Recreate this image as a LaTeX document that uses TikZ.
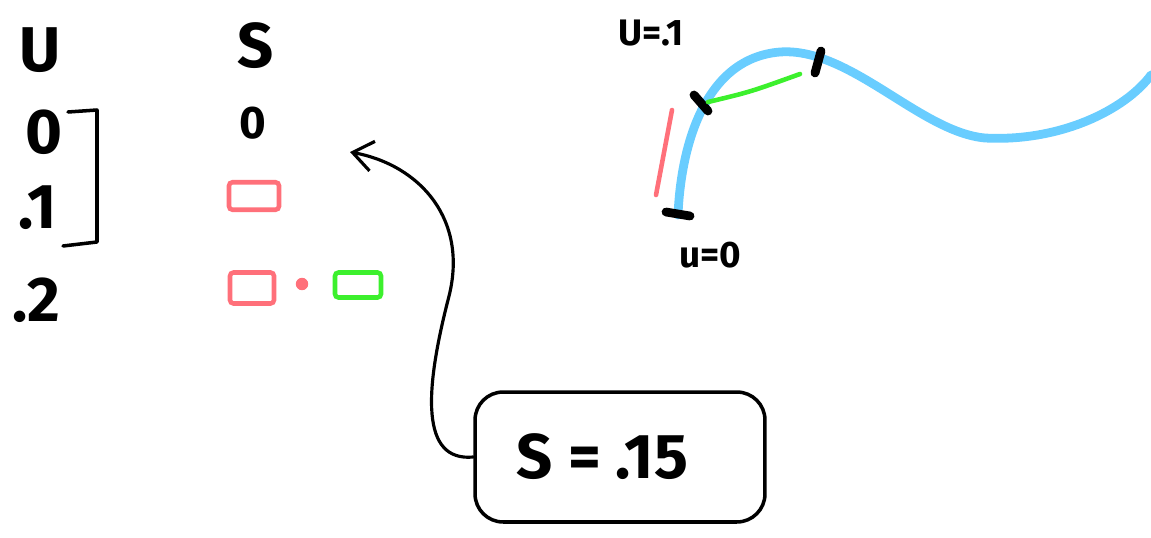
\documentclass[tikz,border=0pt]{standalone}
\usepackage{fontspec}
\setmainfont{Fira Sans}
\usepackage{xcolor}
\usepackage{tikz}
\usetikzlibrary{arrows.meta,positioning,calc}
\definecolor{inkred}{RGB}{255,112,122}
\definecolor{inkgreen}{RGB}{60,240,45}
\definecolor{inkblue}{RGB}{105,205,255}
\tikzset{
  biglab/.style  = {font=\fontsize{36}{40}\selectfont\bfseries, inner sep=0pt},
  midlab/.style  = {font=\fontsize{26}{30}\selectfont\bfseries, inner sep=0pt},
  smalllab/.style= {font=\fontsize{21}{24}\selectfont\bfseries, inner sep=0pt},
  hand/.style    = {line width=2pt, line cap=round, line join=round},
  redbox/.style  = {draw=inkred, line width=2.6pt, rounded corners=2pt},
  greenbox/.style= {draw=inkgreen, line width=2.6pt, rounded corners=2pt},
  tick/.style    = {line width=5pt, line cap=round},
  eqbox/.style   = {draw, line width=2pt, rounded corners=16pt,
                    minimum width=5.8cm, minimum height=2.6cm,
                    font=\fontsize{36}{40}\selectfont\bfseries},
}

\begin{document}
\begin{tikzpicture}[x=0.02cm, y=-0.02cm]
  \useasboundingbox (0,0) rectangle (1151,537);
  % table
  \node[biglab] (uhead) at (40,50) {U};
  \node[biglab] (shead) at (256,46) {S};
  \node[biglab] (u0) at (44,132) {0};
  \node[biglab] (u1) at (38,208) {.1};
  \node[biglab] (u2) at (36,300) {.2};
  \node[midlab] (s0) at (253,123) {0};
  \node[redbox, minimum width=1cm, minimum height=0.55cm] (s1) at (254,196) {};
  \node[redbox, minimum width=0.88cm, minimum height=0.62cm] (s2) at (252,288) {};
  \node[circle, fill=inkred, inner sep=2.5pt] (plus) at (302,284) {};
  \node[greenbox, minimum width=0.92cm, minimum height=0.5cm] (g2) at (358,285) {};
  \draw[hand] (68,112) -- (97,110) -- (97,242) -- (63,246);
  % S = .15
  \node[eqbox] (eq) at (620,457) {\hspace*{-0.7cm}S = .15};
  \coordinate (tgt) at (350,152);
  \draw[hand, line width=1.8pt, -{Straight Barb[length=4mm, width=6mm]}]
    (eq.west) .. controls (420,462) and (425,390) .. (448,300)
    .. controls (470,220) and (420,165) .. (tgt);
  % curve
  \draw[inkblue, line width=5pt, line cap=round]
    (678,215) .. controls (681,145) and (705,58) .. (780,52)
    .. controls (850,47) and (920,132) .. (985,138)
    .. controls (1060,142) and (1125,110) .. (1151,75);
  \coordinate (k0) at (678,214);
  \coordinate (k1) at (702,103);
  \coordinate (k2) at (818,62);
  \draw[tick] ($(k0)+(-12,-2)$) -- ($(k0)+(12,2)$);
  \draw[tick] ($(k1)+(-8,-8)$) -- ($(k1)+(6,8)$);
  \draw[tick] ($(k2)+(3,-11)$) -- ($(k2)+(-3,11)$);
  \draw[inkred, line width=2.6pt, line cap=round] (672,110) -- (656,195);
  \draw[inkgreen, line width=2.6pt, line cap=round] (708,102) .. controls (750,92) .. (800,74);
  \node[smalllab] (lab1) at (651,33) {U=.1};
  \node[smalllab] (lab0) at (710,255) {u=0};
\end{tikzpicture}
\end{document}
